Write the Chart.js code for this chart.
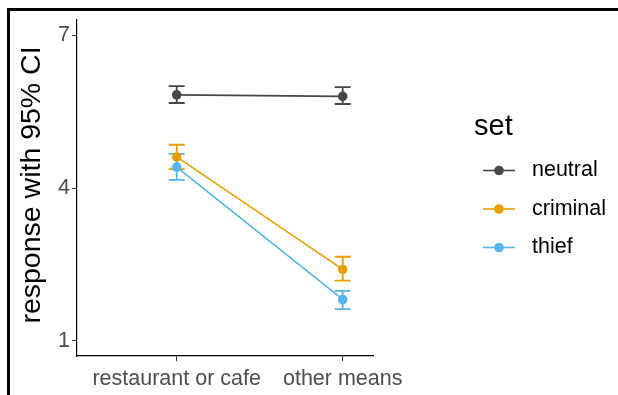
<!DOCTYPE html>
<html>
<head>
<meta charset="utf-8">
<script src="https://cdn.jsdelivr.net/npm/chart.js@4/dist/chart.umd.min.js"></script>
<style>
  html, body { margin: 0; padding: 0; background: #fff; }
  canvas { display: block; }
</style>
</head>
<body>
<canvas id="c" width="618" height="395"></canvas>
<script>
// Categories on the x axis
const categories = ['restaurant or cafe', 'other means'];
// Series (legend order)
const seriesNames = ['neutral', 'criminal', 'thief'];
// Means and 95% CI bounds per category
const neutralMean  = [5.83, 5.80];
const neutralLow   = [5.67, 5.65];
const neutralHigh  = [6.00, 5.98];
const criminalMean = [4.61, 2.40];
const criminalLow  = [4.37, 2.18];
const criminalHigh = [4.85, 2.65];
const thiefMean    = [4.41, 1.81];
const thiefLow     = [4.16, 1.62];
const thiefHigh    = [4.67, 1.98];
// Y axis tick labels
const yTicks = [1, 4, 7];
const yTitle = 'response with 95% CI';
const legendTitle = 'set';

const FONT = "'Liberation Sans', Arial, sans-serif";
const colors = ['#464646', '#E69F00', '#56B4E9'];
const means = [neutralMean, criminalMean, thiefMean];
const lows = [neutralLow, criminalLow, thiefLow];
const highs = [neutralHigh, criminalHigh, thiefHigh];

const datasets = seriesNames.map((name, i) => ({
  label: name,
  data: categories.map((c, j) => ({ x: j + 1, y: means[i][j] })),
  low: lows[i],
  high: highs[i],
  borderColor: colors[i],
  backgroundColor: colors[i],
  borderWidth: 1.6,
  pointRadius: 4.8,
  pointBorderWidth: 0,
  pointBackgroundColor: colors[i],
  tension: 0
}));

// white page with a heavy frame on the top and left edges
const framePlugin = {
  id: 'frame',
  beforeDraw(chart) {
    const ctx = chart.ctx;
    ctx.save();
    ctx.fillStyle = '#fff';
    ctx.fillRect(0, 0, chart.width, chart.height);
    ctx.fillStyle = '#000';
    ctx.fillRect(7, 8, chart.width - 7, 3);
    ctx.fillRect(7, 8, 3, chart.height - 8);
    ctx.restore();
  }
};

// vertical CI whiskers with caps
const errorBarPlugin = {
  id: 'errorBars',
  beforeDatasetsDraw(chart) {
    const ctx = chart.ctx;
    const xs = chart.scales.x, ys = chart.scales.y;
    ctx.save();
    chart.data.datasets.forEach(ds => {
      ctx.strokeStyle = ds.borderColor;
      ctx.lineWidth = 1.8;
      ds.data.forEach((p, j) => {
        const x = xs.getPixelForValue(p.x);
        const yl = ys.getPixelForValue(ds.low[j]);
        const yh = ys.getPixelForValue(ds.high[j]);
        ctx.beginPath();
        ctx.moveTo(x, yl); ctx.lineTo(x, yh);
        ctx.moveTo(x - 8, yl); ctx.lineTo(x + 8, yl);
        ctx.moveTo(x - 8, yh); ctx.lineTo(x + 8, yh);
        ctx.stroke();
      });
    });
    ctx.restore();
  }
};

// rotated y axis title, left of the tick labels
const yTitlePlugin = {
  id: 'yTitle',
  afterDraw(chart) {
    const ctx = chart.ctx;
    const area = chart.chartArea;
    ctx.save();
    ctx.translate(32.5, (area.top + area.bottom) / 2 - 3);
    ctx.rotate(-Math.PI / 2);
    ctx.textAlign = 'center';
    ctx.textBaseline = 'middle';
    ctx.fillStyle = '#000';
    ctx.font = '28.5px ' + FONT;
    ctx.fillText(yTitle, 0, 0);
    ctx.restore();
  }
};

// legend: title plus line-and-dot keys
const legendPlugin = {
  id: 'setLegend',
  afterDraw(chart) {
    const ctx = chart.ctx;
    ctx.save();
    ctx.fillStyle = '#000';
    ctx.textBaseline = 'alphabetic';
    ctx.textAlign = 'left';
    ctx.font = '29px ' + FONT;
    ctx.fillText(legendTitle, 474, 135);
    ctx.font = '21.5px ' + FONT;
    ctx.textBaseline = 'middle';
    chart.data.datasets.forEach((ds, i) => {
      const y = 170.5 + i * 38.5;
      ctx.strokeStyle = ds.borderColor;
      ctx.lineWidth = 1.6;
      ctx.beginPath();
      ctx.moveTo(483, y); ctx.lineTo(515, y);
      ctx.stroke();
      ctx.fillStyle = ds.borderColor;
      ctx.beginPath();
      ctx.arc(499, y, 4.8, 0, Math.PI * 2);
      ctx.fill();
      ctx.fillStyle = '#000';
      ctx.fillText(ds.label, 532, y);
    });
    ctx.restore();
  }
};

new Chart(document.getElementById('c'), {
  type: 'line',
  data: { datasets },
  options: {
    responsive: false,
    animation: false,
    events: [],
    layout: { padding: { left: 0, top: 20, right: 245, bottom: 0 } },
    plugins: { legend: { display: false }, tooltip: { enabled: false } },
    scales: {
      x: {
        type: 'linear',
        min: 0.3994,
        max: 2.1825,
        afterBuildTicks: s => { s.ticks = categories.map((c, j) => ({ value: j + 1 })); },
        ticks: {
          callback: v => categories[v - 1],
          font: { family: FONT, size: 21.5 },
          color: '#4d4d4d',
          padding: 5,
          maxRotation: 0,
          autoSkip: false
        },
        grid: { display: true, drawOnChartArea: false, drawTicks: true, tickLength: 5, color: '#333', lineWidth: 1 },
        border: { display: true, color: '#000', width: 1.2 },
        afterFit: s => { s.height = 39; }
      },
      y: {
        type: 'linear',
        min: 0.7,
        max: 7.3,
        afterBuildTicks: s => { s.ticks = yTicks.map(v => ({ value: v })); },
        ticks: {
          font: { family: FONT, size: 21.5 },
          color: '#4d4d4d',
          padding: 2
        },
        grid: { display: true, drawOnChartArea: false, drawTicks: true, tickLength: 5, color: '#333', lineWidth: 1 },
        border: { display: true, color: '#000', width: 1.2 },
        afterFit: s => { s.width = 77; }
      }
    }
  },
  plugins: [framePlugin, errorBarPlugin, yTitlePlugin, legendPlugin]
});
</script>
</body>
</html>
